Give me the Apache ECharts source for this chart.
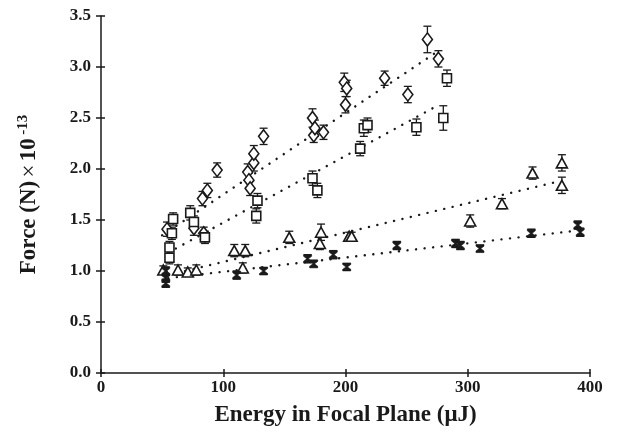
<!DOCTYPE html>
<html>
<head>
<meta charset="utf-8">
<script src="https://cdn.jsdelivr.net/npm/echarts@6/dist/echarts.min.js"></script>
<style>
  html, body { margin: 0; padding: 0; background: #fff; }
  #chart { width: 644px; height: 432px; }
</style>
</head>
<body>
<div id="chart"></div>
<script>
// diamonds
const diaEnergy = [54, 76, 84, 83, 87, 95, 120, 121, 122, 125, 125, 133, 173, 174, 175, 182, 199, 201, 200, 232, 251, 267, 276];
const diaForce  = [1.41, 1.42, 1.37, 1.71, 1.79, 1.99, 1.97, 1.89, 1.81, 2.06, 2.15, 2.32, 2.50, 2.33, 2.40, 2.36, 2.85, 2.79, 2.63, 2.89, 2.73, 3.27, 3.08];
const diaErr    = [0.07, 0.07, 0.06, 0.07, 0.07, 0.07, 0.08, 0.07, 0.07, 0.08, 0.08, 0.08, 0.09, 0.07, 0.08, 0.07, 0.09, 0.08, 0.08, 0.07, 0.08, 0.13, 0.08];

// squares
const sqEnergy = [56, 56, 58, 59, 73, 76, 85, 127, 128, 173, 177, 212, 215, 218, 258, 280, 283];
const sqForce  = [1.13, 1.23, 1.37, 1.51, 1.57, 1.48, 1.33, 1.54, 1.69, 1.91, 1.79, 2.20, 2.40, 2.43, 2.41, 2.50, 2.89];
const sqErr    = [0.06, 0.06, 0.06, 0.06, 0.07, 0.06, 0.06, 0.07, 0.07, 0.07, 0.07, 0.07, 0.08, 0.07, 0.08, 0.12, 0.08];

// triangles
const triEnergy = [51, 63, 71, 78, 109, 116, 118, 154, 179, 180, 203, 205, 302, 328, 353, 377, 377];
const triForce  = [1.01, 1.01, 0.99, 1.01, 1.20, 1.03, 1.20, 1.33, 1.27, 1.38, 1.34, 1.34, 1.49, 1.66, 1.96, 1.84, 2.06];
const triErr    = [0.04, 0.05, 0.04, 0.05, 0.06, 0.05, 0.06, 0.06, 0.06, 0.08, 0.04, 0.04, 0.06, 0.05, 0.06, 0.08, 0.08];

// asterisks
const astEnergy = [53, 53, 53, 111, 133, 169, 174, 190, 201, 242, 290, 294, 310, 352, 390, 392];
const astForce  = [1.00, 0.93, 0.88, 0.96, 1.00, 1.12, 1.07, 1.16, 1.04, 1.25, 1.27, 1.25, 1.22, 1.37, 1.45, 1.38];
const astErr    = [0.04, 0.04, 0.04, 0.04, 0.03, 0.04, 0.03, 0.04, 0.03, 0.04, 0.04, 0.04, 0.03, 0.04, 0.04, 0.04];

// dotted fit lines [x0, y0, x1, y1]
const diaFit = [50, 1.35, 275, 3.15];
const sqFit  = [55, 1.18, 275, 2.62];
const triFit = [55, 0.96, 375, 1.88];
const astFit = [55, 0.93, 385, 1.39];

const xTicks = [0, 100, 200, 300, 400];

const chart = echarts.init(document.getElementById('chart'));

const serif = 'Liberation Serif';
const ink = '#1a1a1a';

function pts(xs, ys) {
    return xs.map((x, i) => [x, ys[i]]);
}

function errData(xs, ys, es) {
    return xs.map((x, i) => [x, ys[i] - es[i], ys[i] + es[i]]);
}

// vertical error bar with caps
function errSeries(xs, ys, es) {
    return {
        type: 'custom',
        data: errData(xs, ys, es),
        z: 1,
        silent: true,
        renderItem: function (params, api) {
            const lo = api.coord([api.value(0), api.value(1)]);
            const hi = api.coord([api.value(0), api.value(2)]);
            const w = 4;
            const style = { stroke: ink, lineWidth: 1.3, fill: null };
            return {
                type: 'group',
                children: [
                    { type: 'line', shape: { x1: lo[0], y1: lo[1], x2: hi[0], y2: hi[1] }, style: style },
                    { type: 'line', shape: { x1: lo[0] - w, y1: lo[1], x2: lo[0] + w, y2: lo[1] }, style: style },
                    { type: 'line', shape: { x1: hi[0] - w, y1: hi[1], x2: hi[0] + w, y2: hi[1] }, style: style }
                ]
            };
        }
    };
}

function fitSeries(f) {
    return {
        type: 'line',
        data: [[f[0], f[1]], [f[2], f[3]]],
        symbol: 'none',
        silent: true,
        z: 0,
        lineStyle: { color: ink, width: 2.4, type: [0.1, 8.5], cap: 'round' }
    };
}

function markSeries(xs, ys, symbol, size, filled) {
    return {
        type: 'scatter',
        data: pts(xs, ys),
        symbol: symbol,
        symbolSize: size,
        z: 3,
        itemStyle: {
            color: filled ? ink : '#fff',
            borderColor: ink,
            borderWidth: filled ? 0.6 : 1.6,
            opacity: 1
        }
    };
}

const hourglass = 'path://M0,0 L10,0 L10,2 L6,5 L10,8 L10,10 L0,10 L0,8 L4,5 L0,2 Z';

const option = {
    backgroundColor: '#fff',
    animation: false,
    grid: { left: 101, right: 54, top: 16, bottom: 59 },
    xAxis: [{
        type: 'value',
        min: 0,
        max: 400,
        interval: 100,
        name: 'Energy in Focal Plane (\u03bcJ)',
        nameLocation: 'middle',
        nameGap: 31,
        nameTextStyle: { fontFamily: serif, fontWeight: 'bold', fontSize: 23, color: ink },
        axisLine: { lineStyle: { color: ink, width: 1.5 } },
        axisTick: { length: 4, lineStyle: { color: ink, width: 1.5 } },
        axisLabel: {
            fontFamily: serif, fontWeight: 'bold', fontSize: 17, color: ink, margin: 6,
            formatter: v => xTicks.includes(v) ? String(v) : ''
        },
        splitLine: { show: false }
    }, {
        // inner half of the crossing ticks
        type: 'value',
        position: 'bottom',
        min: 0,
        max: 400,
        interval: 100,
        axisLine: { show: false },
        axisTick: { inside: true, length: 4, lineStyle: { color: ink, width: 1.5 } },
        axisLabel: { show: false },
        splitLine: { show: false }
    }],
    yAxis: [{
        type: 'value',
        min: 0,
        max: 3.5,
        interval: 0.5,
        name: '{b|Force (N)} {m|\u00d7} {b|10} {s|-13}',
        nameLocation: 'middle',
        nameGap: 58,
        nameRotate: 90,
        nameTextStyle: {
            color: ink,
            rich: {
                b: { fontFamily: serif, fontWeight: 'bold', fontSize: 23, color: ink },
                m: { fontFamily: serif, fontSize: 23, color: ink },
                s: { fontFamily: serif, fontWeight: 'bold', fontSize: 15, color: ink, verticalAlign: 'top', padding: [0, 0, 12, 0] }
            }
        },
        axisLine: { show: true, lineStyle: { color: ink, width: 1.5 } },
        axisTick: { show: true, length: 5, lineStyle: { color: ink, width: 1.5 } },
        axisLabel: {
            fontFamily: serif, fontWeight: 'bold', fontSize: 17, color: ink, margin: 10,
            formatter: v => v.toFixed(1)
        },
        splitLine: { show: false }
    }, {
        type: 'value',
        position: 'left',
        min: 0,
        max: 3.5,
        interval: 0.5,
        axisLine: { show: false },
        axisTick: { show: true, inside: true, length: 4, lineStyle: { color: ink, width: 1.5 } },
        axisLabel: { show: false },
        splitLine: { show: false }
    }],
    series: [
        fitSeries(diaFit),
        fitSeries(sqFit),
        fitSeries(triFit),
        fitSeries(astFit),
        errSeries(diaEnergy, diaForce, diaErr),
        errSeries(sqEnergy, sqForce, sqErr),
        errSeries(triEnergy, triForce, triErr),
        errSeries(astEnergy, astForce, astErr),
        markSeries(diaEnergy, diaForce, 'diamond', [10, 13], false),
        markSeries(sqEnergy, sqForce, 'rect', 9, false),
        markSeries(triEnergy, triForce, 'triangle', [11, 10], false),
        markSeries(astEnergy, astForce, hourglass, [8, 8], true)
    ]
};

chart.setOption(option);

window.addEventListener('resize', function () {
    chart.resize();
});
</script>
</body>
</html>
